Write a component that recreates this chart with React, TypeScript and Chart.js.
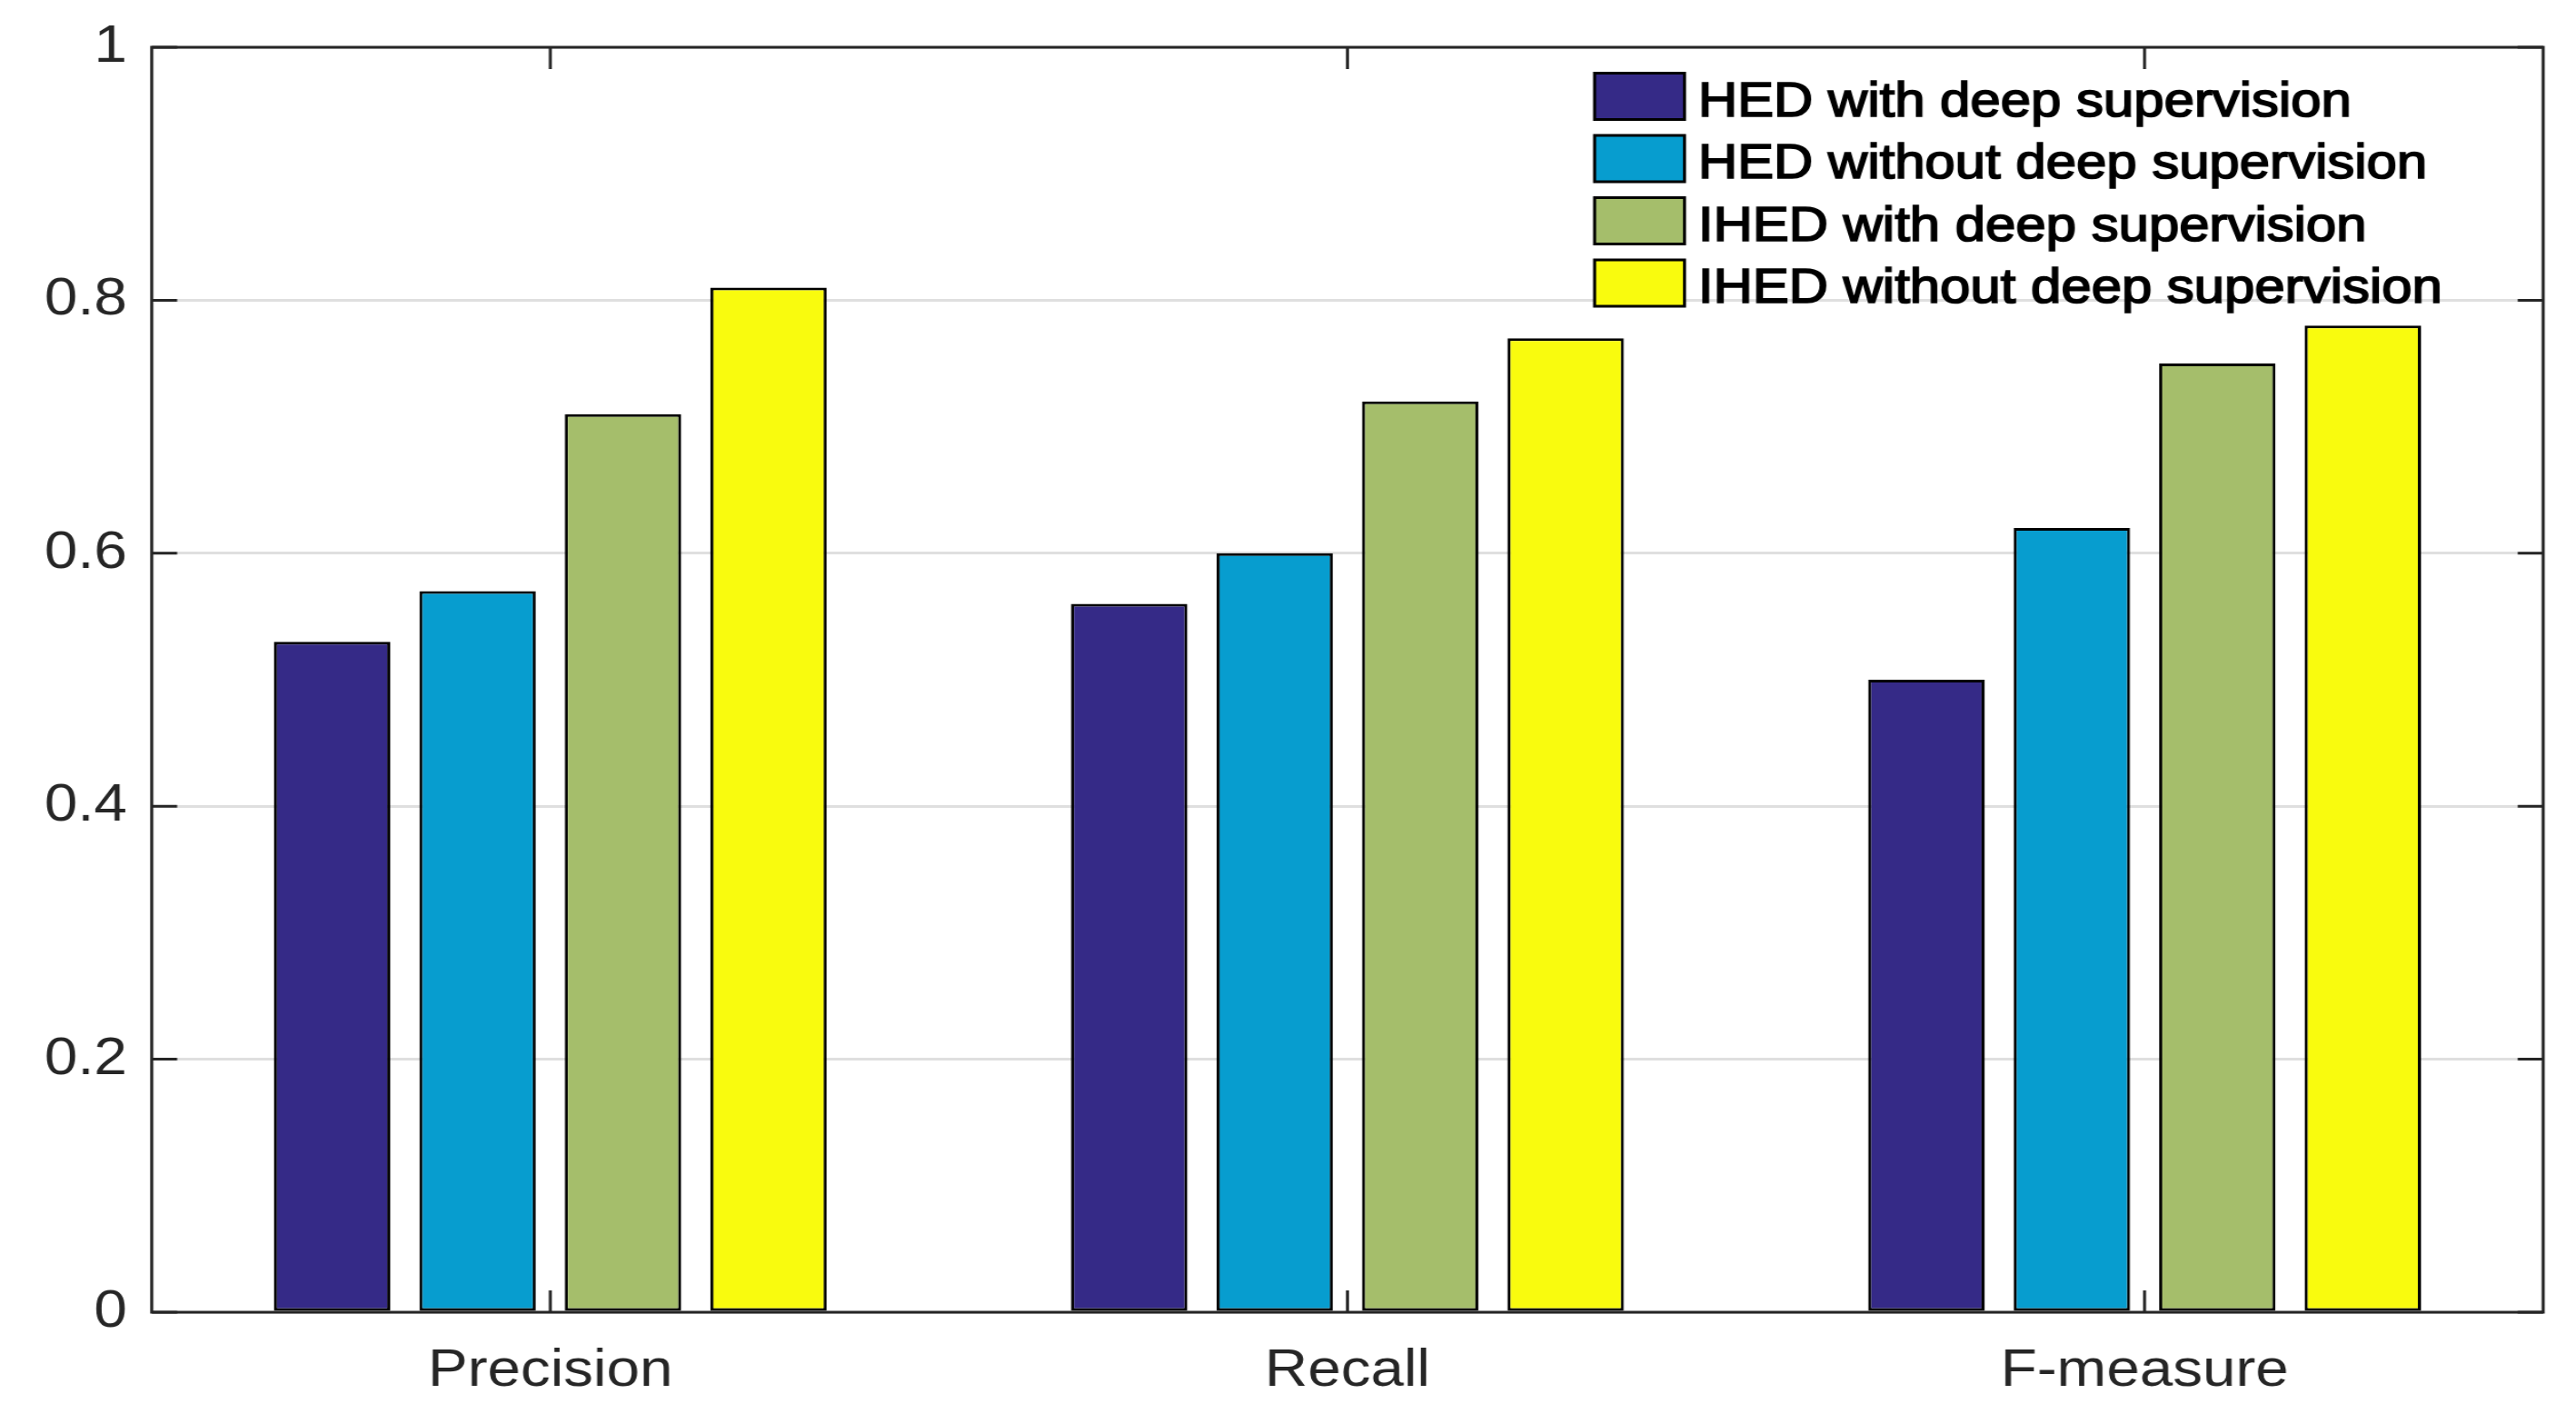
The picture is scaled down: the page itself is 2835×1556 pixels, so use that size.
import React, { useEffect, useRef } from 'react';
import { Chart, registerables } from 'chart.js';

Chart.register(...registerables);

// ---- data ----
const categories = ['Precision', 'Recall', 'F-measure'];
const seriesNames = [
  'HED with deep supervision',
  'HED without deep supervision',
  'IHED with deep supervision',
  'IHED without deep supervision',
];
const hedWithDeep = [0.53, 0.56, 0.5];
const hedWithoutDeep = [0.57, 0.6, 0.62];
const ihedWithDeep = [0.71, 0.72, 0.75];
const ihedWithoutDeep = [0.81, 0.77, 0.78];
const seriesColors = ['#352a87', '#079dcf', '#a5be6b', '#f9fb0e'];
const yTickValues = [0, 0.2, 0.4, 0.6, 0.8, 1];
const yTickLabels = ['0', '0.2', '0.4', '0.6', '0.8', '1'];

// ---- layout ----
const OUT_W = 2835;
const OUT_H = 1556;
const STRETCH = 1.13; // the reference figure is horizontally stretched
const W = Math.round(OUT_W / STRETCH);
const H = OUT_H;
const FONT = "'Liberation Sans', Arial, Helvetica, sans-serif";
const AXIS_COLOR = '#262626';
const PLOT_LEFT = 167 / STRETCH;
const PLOT_RIGHT = 2799 / STRETCH;

const framePlugin = {
  id: 'matlabFrame',
  afterDatasetsDraw(chart: any) {
    const { ctx, chartArea: a, scales } = chart;
    const xs = scales.x;
    const ys = scales.y;
    const hTick = 28 / STRETCH;
    const vTick = 24;
    ctx.save();
    ctx.strokeStyle = AXIS_COLOR;
    ctx.lineWidth = 3;
    ctx.lineCap = 'butt';
    ctx.beginPath();
    ctx.rect(a.left, a.top, a.right - a.left, a.bottom - a.top);
    ctx.stroke();
    ctx.beginPath();
    yTickValues.forEach((v) => {
      const y = ys.getPixelForValue(v);
      ctx.moveTo(a.left, y);
      ctx.lineTo(a.left + hTick, y);
      ctx.moveTo(a.right, y);
      ctx.lineTo(a.right - hTick, y);
    });
    categories.forEach((_c, i) => {
      const x = xs.getPixelForValue(i);
      ctx.moveTo(x, a.bottom);
      ctx.lineTo(x, a.bottom - vTick);
      ctx.moveTo(x, a.top);
      ctx.lineTo(x, a.top + vTick);
    });
    ctx.stroke();
    ctx.restore();
  },
};

const legendPlugin = {
  id: 'matlabLegend',
  afterDraw(chart: any) {
    const { ctx } = chart;
    const boxLeft = 1755 / STRETCH;
    const boxRight = 1854 / STRETCH;
    const boxH = 51;
    const firstTop = 80.5;
    const rowStep = 68.5;
    const textX = 1869 / STRETCH;
    ctx.save();
    chart.data.datasets.forEach((ds: any, i: number) => {
      const top = firstTop + i * rowStep;
      ctx.fillStyle = ds.backgroundColor;
      ctx.fillRect(boxLeft, top, boxRight - boxLeft, boxH);
      ctx.strokeStyle = '#000';
      ctx.lineWidth = 3;
      ctx.strokeRect(boxLeft, top, boxRight - boxLeft, boxH);
      ctx.font = `53px ${FONT}`;
      ctx.fillStyle = '#000';
      ctx.textAlign = 'left';
      ctx.textBaseline = 'alphabetic';
      const baseline = top + 47;
      ctx.fillText(ds.label, textX, baseline);
      ctx.lineWidth = 1.7;
      ctx.strokeText(ds.label, textX, baseline);
    });
    ctx.restore();
  },
};

export default function App() {
  const canvasRef = useRef<HTMLCanvasElement | null>(null);

  useEffect(() => {
    document.body.style.margin = '0';
    document.body.style.overflow = 'hidden';
    const canvas = canvasRef.current;
    if (!canvas) return;
    const seriesValues = [hedWithDeep, hedWithoutDeep, ihedWithDeep, ihedWithoutDeep];
    const chart = new Chart(canvas, {
      type: 'bar',
      data: {
        labels: categories,
        datasets: seriesValues.map((vals, i) => ({
          label: seriesNames[i],
          data: vals,
          backgroundColor: seriesColors[i],
          borderColor: '#000000',
          borderWidth: 3,
          borderSkipped: false,
          categoryPercentage: 0.73,
          barPercentage: 0.8,
        })),
      },
      options: {
        responsive: false,
        animation: false,
        events: [],
        layout: { padding: { left: 0, right: W - PLOT_RIGHT, top: 52, bottom: 0 } },
        plugins: {
          legend: { display: false },
          tooltip: { enabled: false },
        },
        scales: {
          x: {
            type: 'category',
            offset: true,
            grid: { display: false, drawTicks: false },
            border: { display: false },
            ticks: {
              color: AXIS_COLOR,
              font: { family: FONT, size: 58 },
              padding: 30,
              maxRotation: 0,
              autoSkip: false,
            },
            afterFit(scale: any) {
              scale.height = 112;
              scale.paddingLeft = 0;
              scale.paddingRight = 0;
            },
          },
          y: {
            type: 'linear',
            min: 0,
            max: 1,
            grid: { color: '#dfdfdf', lineWidth: 3, drawTicks: false },
            border: { display: false },
            ticks: {
              color: AXIS_COLOR,
              font: { family: FONT, size: 58 },
              padding: 24,
              callback: (v: any) => {
                const idx = yTickValues.findIndex((t) => Math.abs(t - Number(v)) < 1e-9);
                return idx >= 0 ? yTickLabels[idx] : '';
              },
            },
            afterBuildTicks(scale: any) {
              scale.ticks = yTickValues.map((v) => ({ value: v }));
            },
            afterFit(scale: any) {
              scale.width = PLOT_LEFT;
              scale.paddingTop = 0;
              scale.paddingBottom = 0;
            },
          },
        },
      },
      plugins: [framePlugin, legendPlugin],
    });
    return () => {
      chart.destroy();
    };
  }, []);

  return (
    <div style={{ width: OUT_W, height: OUT_H, background: '#fff', overflow: 'hidden' }}>
      <canvas
        ref={canvasRef}
        width={W}
        height={H}
        style={{ width: `${OUT_W}px`, height: `${OUT_H}px`, display: 'block' }}
      />
    </div>
  );
}
